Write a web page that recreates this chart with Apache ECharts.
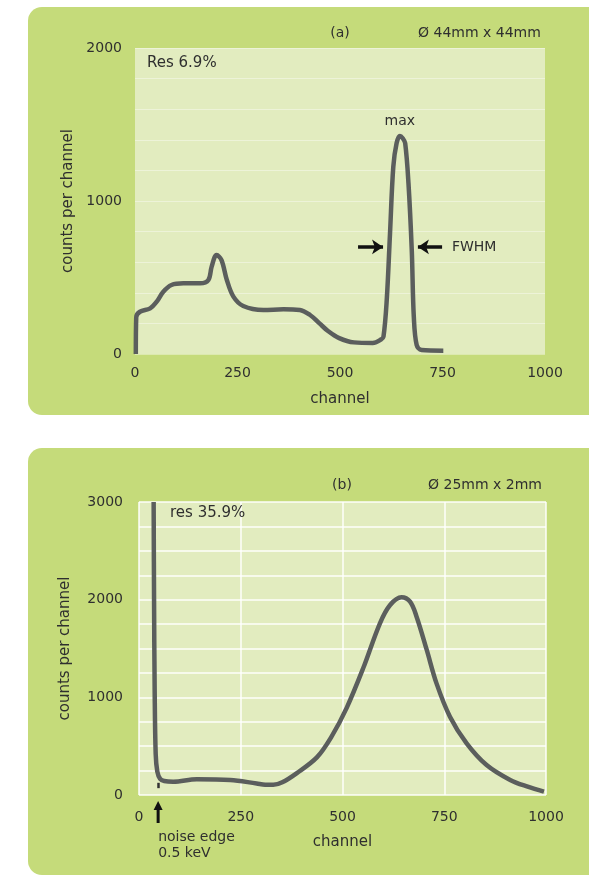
<!DOCTYPE html>
<html>
<head>
<meta charset="utf-8">
<script src="https://cdn.jsdelivr.net/npm/echarts@6/dist/echarts.min.js"></script>
<style>
  html, body { margin: 0; padding: 0; background: #ffffff; }
  #chart { width: 589px; height: 877px; }
</style>
</head>
<body>
<div id="chart"></div>
<script>
// Panel (a): Ø 44mm x 44mm crystal spectrum
const channelsA = [2, 3, 12, 37, 53, 69, 89, 118, 159, 179, 187, 199, 211, 224, 240, 264, 313, 362, 402, 427, 450, 470, 498, 534, 580, 600, 606, 614, 622, 630, 638, 646, 653, 659, 667, 675, 680, 687, 699, 752];
const countsA   = [0, 240, 276, 298, 342, 407, 451, 462, 462, 484, 571, 647, 614, 484, 375, 314, 288, 292, 288, 255, 200, 152, 104, 76, 72, 95, 113, 353, 789, 1224, 1377, 1425, 1410, 1377, 1116, 680, 244, 59, 26, 22];

// Panel (b): Ø 25mm x 2mm crystal spectrum
const channelsB = [36, 37, 38.5, 41, 45, 52, 62, 84, 142, 224, 289, 310, 330, 352, 387, 437, 472, 510, 551, 592, 617, 645, 666, 682, 707, 731, 764, 805, 854, 912, 955, 995];
const countsB   = [3000, 2000, 1075, 420, 240, 165, 143, 136, 161, 154, 118, 106, 104, 130, 222, 385, 590, 890, 1300, 1758, 1945, 2024, 1979, 1826, 1485, 1143, 802, 529, 307, 154, 85, 35];

// Axis ticks
const xTicks = [0, 250, 500, 750, 1000];
const yTicksA = [0, 1000, 2000];
const yTicksB = [0, 1000, 2000, 3000];

// Annotation values (data units)
const peakA = [646, 1425];
const fwhmLevel = 700;
const fwhmLeft = [544, 605];
const fwhmRight = [749, 690];
const fwhmTextChannel = 773;
const noiseEdgeChannel = 47;

const FONT = 'DejaVu Sans';
const TXT = '#2f2f2f';
const LINE = '#5b5e5d';
const BOX = '#c5db7a';
const PLOT = '#e2ecbf';

const zip = (xs, ys) => xs.map((x, i) => [x, ys[i]]);

const chart = echarts.init(document.getElementById('chart'), null, { renderer: 'canvas' });

function yAxisCfg(gridIndex, max, interval, ticks, margin, nameGap, splitColor, splitWidth) {
  return {
    type: 'value', gridIndex, min: 0, max, interval,
    axisLine: { show: false }, axisTick: { show: false },
    axisLabel: {
      margin, color: TXT, fontFamily: FONT, fontSize: 14,
      formatter: v => (ticks.indexOf(v) >= 0 ? String(v) : '')
    },
    splitLine: { show: true, lineStyle: { color: splitColor, width: splitWidth } },
    name: 'counts per channel', nameLocation: 'middle', nameGap,
    nameTextStyle: { color: TXT, fontFamily: FONT, fontSize: 15 }
  };
}

function xAxisCfg(gridIndex, margin, nameGap, showSplit) {
  return {
    type: 'value', gridIndex, min: 0, max: 1000, interval: 250,
    axisLine: { show: false }, axisTick: { show: false },
    axisLabel: {
      margin, color: TXT, fontFamily: FONT, fontSize: 14,
      formatter: v => (xTicks.indexOf(v) >= 0 ? String(v) : '')
    },
    splitLine: { show: showSplit, lineStyle: { color: 'rgba(255,255,255,0.95)', width: 1.5 } },
    name: 'channel', nameLocation: 'middle', nameGap,
    nameTextStyle: { color: TXT, fontFamily: FONT, fontSize: 15 }
  };
}

const option = {
  animation: false,
  backgroundColor: '#ffffff',
  grid: [
    { left: 135, top: 48, width: 410, height: 306, show: true, backgroundColor: PLOT, borderWidth: 0 },
    { left: 139, top: 502, width: 407, height: 293, show: true, backgroundColor: PLOT, borderWidth: 0 }
  ],
  xAxis: [
    xAxisCfg(0, 12, 38, false),
    xAxisCfg(1, 15, 40, true)
  ],
  yAxis: [
    yAxisCfg(0, 2000, 200, yTicksA, 13, 58, 'rgba(255,255,255,0.4)', 1),
    yAxisCfg(1, 3000, 250, yTicksB, 16, 66, 'rgba(255,255,255,0.95)', 1.5)
  ],
  series: [
    {
      type: 'line', xAxisIndex: 0, yAxisIndex: 0,
      data: zip(channelsA, countsA),
      smooth: 0.35, showSymbol: false, clip: true,
      lineStyle: { color: LINE, width: 4.5 },
      markPoint: {
        symbol: 'circle', symbolSize: 0,
        label: { show: true, position: 'top', distance: 8, color: TXT, fontFamily: FONT, fontSize: 14, formatter: 'max' },
        data: [{ coord: peakA }]
      },
      markLine: {
        silent: true,
        symbol: ['none', 'arrow'], symbolSize: [11, 11],
        lineStyle: { color: '#111', width: 3.5, type: 'solid' },
        label: { show: false },
        data: [
          [{ coord: [fwhmLeft[0], fwhmLevel] }, { coord: [fwhmLeft[1], fwhmLevel] }],
          [{ coord: [fwhmRight[0], fwhmLevel] }, { coord: [fwhmRight[1], fwhmLevel] }]
        ]
      }
    },
    {
      type: 'line', xAxisIndex: 1, yAxisIndex: 1,
      data: zip(channelsB, countsB),
      smooth: 0.35, showSymbol: false, clip: true,
      lineStyle: { color: LINE, width: 4.5 },
      markLine: {
        silent: true,
        symbol: ['none', 'none'],
        lineStyle: { color: '#333', width: 2.5, type: 'solid' },
        label: { show: false },
        data: [
          [{ coord: [noiseEdgeChannel, 70] }, { coord: [noiseEdgeChannel, 125] }]
        ]
      }
    }
  ]
};

// Green panel backgrounds, drawn under the grids
const boxes = [
  { type: 'rect', z: -10, shape: { x: 28, y: 7, width: 600, height: 408, r: 14 }, style: { fill: BOX } },
  { type: 'rect', z: -10, shape: { x: 28, y: 448, width: 600, height: 427, r: 14 }, style: { fill: BOX } }
];
option.graphic = boxes;
chart.setOption(option);

// Text annotations placed through the axes' own scales
const ta = (ch, v) => chart.convertToPixel({ gridIndex: 0 }, [ch, v]);
const tb = (ch, v) => chart.convertToPixel({ gridIndex: 1 }, [ch, v]);
const textStyle = (extra) => Object.assign({ fill: TXT, font: '14px "DejaVu Sans"', textVerticalAlign: 'middle' }, extra);

const fwhmPos = ta(fwhmTextChannel, fwhmLevel);
const noisePos = tb(noiseEdgeChannel, 0);
const arrowX = noisePos[0];

const gr = boxes.concat([
  { type: 'text', z: 20, x: 340, y: 33, style: textStyle({ text: '(a)', textAlign: 'center' }) },
  { type: 'text', z: 20, x: 418, y: 33, style: textStyle({ text: 'Ø 44mm x 44mm', textAlign: 'left' }) },
  { type: 'text', z: 20, x: 147, y: 63, style: textStyle({ text: 'Res 6.9%', textAlign: 'left', font: '15px "DejaVu Sans"' }) },
  { type: 'text', z: 20, x: fwhmPos[0], y: fwhmPos[1], style: textStyle({ text: 'FWHM', textAlign: 'left' }) },

  { type: 'text', z: 20, x: 342, y: 485, style: textStyle({ text: '(b)', textAlign: 'center' }) },
  { type: 'text', z: 20, x: 428, y: 485, style: textStyle({ text: 'Ø 25mm x 2mm', textAlign: 'left' }) },
  { type: 'text', z: 20, x: 170, y: 513, style: textStyle({ text: 'res 35.9%', textAlign: 'left', font: '15px "DejaVu Sans"' }) },

  // noise edge arrow below the channel axis
  { type: 'line', z: 20, shape: { x1: arrowX, y1: 823, x2: arrowX, y2: 809 }, style: { stroke: '#111', lineWidth: 3 } },
  { type: 'polygon', z: 20, shape: { points: [[arrowX - 4.5, 810], [arrowX + 4.5, 810], [arrowX, 801]] }, style: { fill: '#111' } },
  { type: 'text', z: 20, x: arrowX, y: 837, style: textStyle({ text: 'noise edge', textAlign: 'left' }) },
  { type: 'text', z: 20, x: arrowX, y: 853, style: textStyle({ text: '0.5 keV', textAlign: 'left' }) }
]);
chart.setOption({ graphic: gr }, { replaceMerge: ['graphic'] });
</script>
</body>
</html>
